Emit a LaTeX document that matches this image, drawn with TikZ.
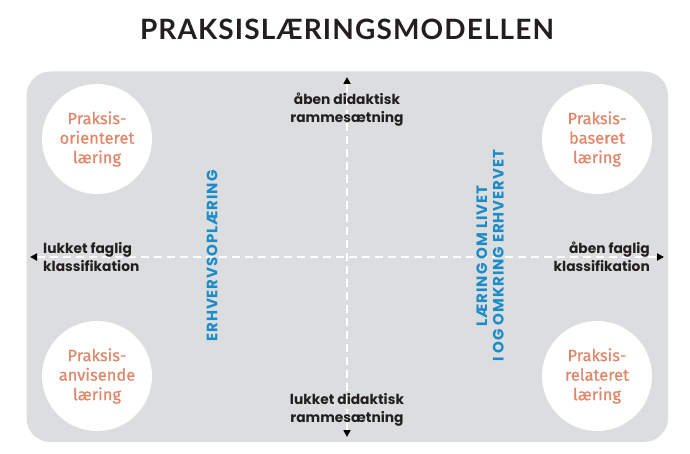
\documentclass[tikz,border=0pt]{standalone}
\usepackage{fontspec}
\setmainfont{Poppins}
\newfontfamily\titlefont[LetterSpace=4]{Lato}
\newfontfamily\circlefont[FakeBold=0.6]{Fira Sans}
\newfontfamily\axisfont[LetterSpace=6]{Poppins}
\usetikzlibrary{arrows.meta}

\definecolor{panelgray}{HTML}{DCDDDF}
\definecolor{praksis}{HTML}{E0876A}
\definecolor{axisblue}{HTML}{1B8CC7}
\definecolor{inkblack}{HTML}{231F20}

\begin{document}
\begin{tikzpicture}[x=1pt, y=1pt,
		every node/.style={font=\fontsize{13.8}{18}\selectfont\bfseries, text=inkblack, inner sep=0pt},
		quarter/.style={circle, fill=white, minimum size=110pt, align=center, text=praksis,
			font=\circlefont\fontsize{16.5}{19.5}\selectfont},
		axis/.style={white, line width=2pt, dash pattern=on 8pt off 5pt,
			{Triangle[black, length=7pt, width=7pt]}-{Triangle[black, length=7pt, width=7pt]}},
		band/.style={rotate=90, align=center, text=axisblue, font=\axisfont\bfseries\fontsize{15}{16.5}\selectfont}]
			\useasboundingbox (0,0) rectangle (690,453);
			\node[font=\titlefont\fontsize{28}{30}\selectfont\bfseries, text=inkblack] (title) at (347,424) {PRAKSISLÆRINGSMODELLEN};
			
			\fill[panelgray, rounded corners=24pt] (26.5,11) rectangle (668,381.5);
			
			\coordinate (west) at (30,196);
			\coordinate (east) at (664,196);
			\coordinate (north) at (347,376);
			\coordinate (south) at (347,16);
			\draw[axis] (west) -- (east);
			\draw[axis] (south) -- (north);
			
			\node[quarter] (q1) at (97,314) {Praksis-\\orienteret\\læring};
			\node[quarter] (q2) at (597,314) {Praksis-\\baseret\\læring};
			\node[quarter] (q3) at (97,77) {Praksis-\\anvisende\\læring};
			\node[quarter] (q4) at (597,77) {Praksis-\\relateret\\læring};
			
			\node[align=center, anchor=north] (topl) at (347,360) {åben didaktisk\\rammesætning};
			\node[align=center, anchor=south] (botl) at (347,27) {lukket didaktisk\\rammesætning};
			\node[align=left, anchor=west] (leftl) at (43,196) {lukket faglig\\klassifikation};
			\node[align=right, anchor=east] (rightl) at (650,196) {åben faglig\\klassifikation};
			
			\node[band] (erhv) at (212,197) {ERHVERVSOPLÆRING};
			\node[band] (livet) at (490,197) {LÆRING OM LIVET\\I OG OMKRING ERHVERVET};
		\end{tikzpicture}
\end{document}
